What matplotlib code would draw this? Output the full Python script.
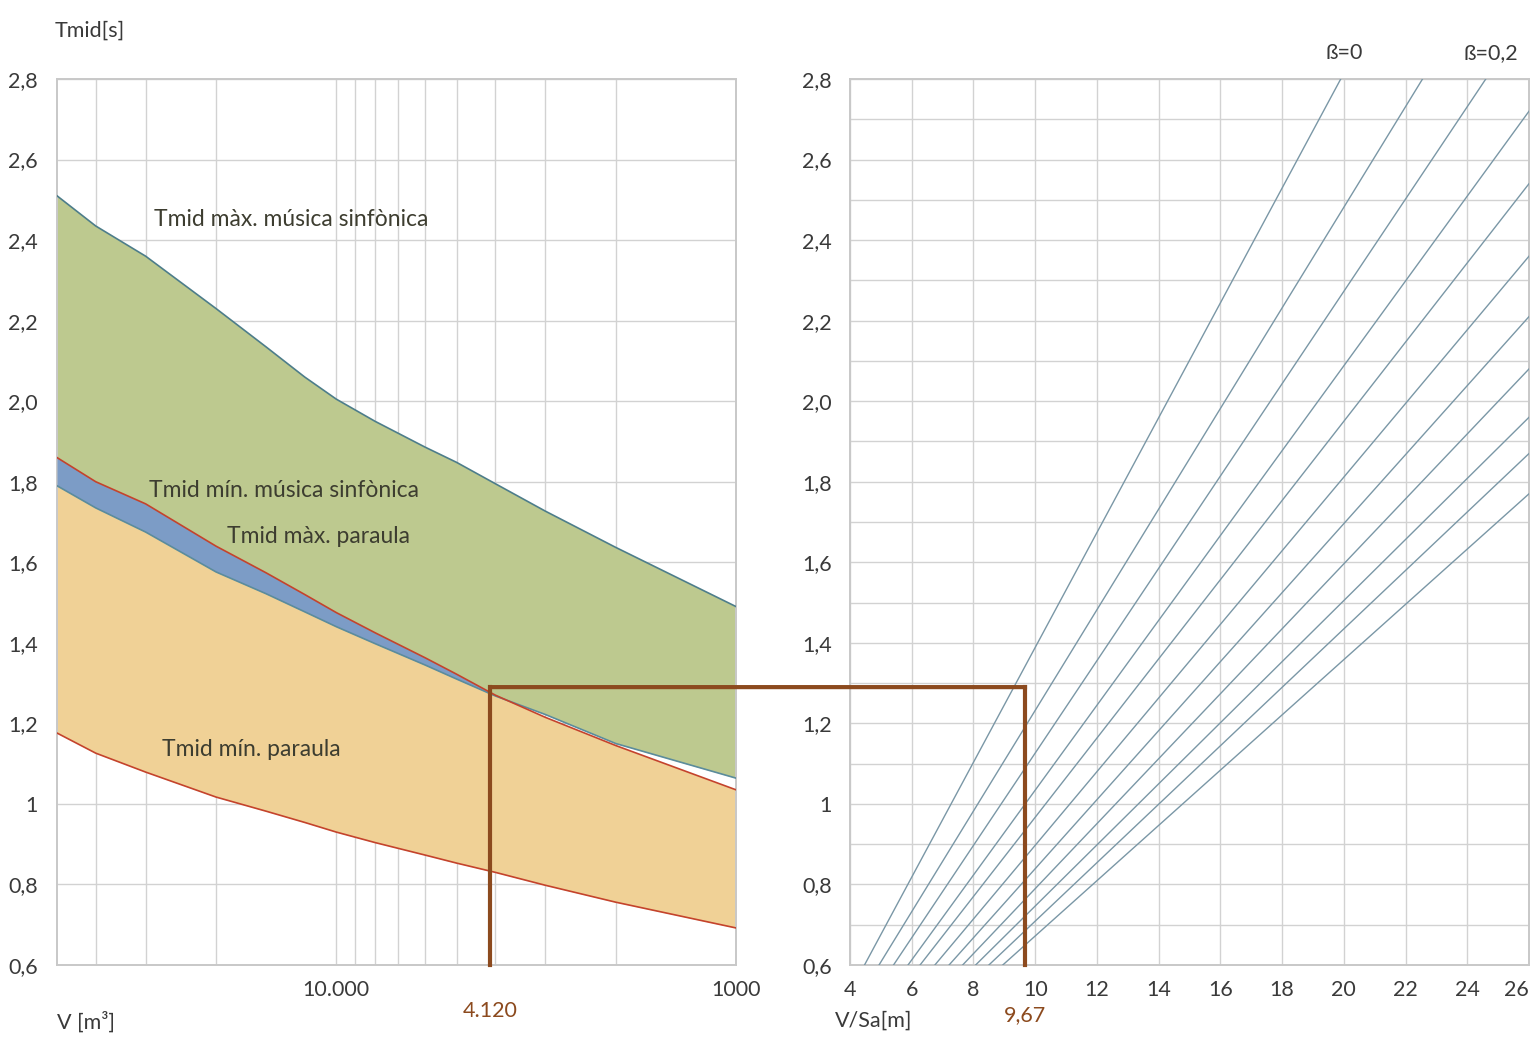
import numpy as np
import matplotlib
matplotlib.use("Agg")
import matplotlib.pyplot as plt
from matplotlib.patches import ConnectionPatch

plt.rcParams['font.family'] = ['Lato', 'DejaVu Sans']

# left chart: Tmid vs volume (log axis, reversed)
volume = [50000, 40000, 30000, 20000, 15000, 12000, 10000, 8000, 6000, 5000, 4000, 3000, 2000, 1000]
t_max_musica = [2.51, 2.435, 2.36, 2.23, 2.135, 2.06, 2.005, 1.95, 1.886, 1.848, 1.795, 1.727, 1.637, 1.49]
t_min_musica = [1.79, 1.735, 1.675, 1.576, 1.522, 1.477, 1.44, 1.398, 1.345, 1.31, 1.268, 1.222, 1.15, 1.064]
t_max_paraula = [1.86, 1.80, 1.745, 1.64, 1.574, 1.52, 1.475, 1.425, 1.363, 1.322, 1.27, 1.215, 1.145, 1.035]
t_min_paraula = [1.176, 1.126, 1.079, 1.017, 0.982, 0.954, 0.93, 0.904, 0.873, 0.853, 0.83, 0.798, 0.756, 0.692]

v_grid = [40000, 30000, 20000, 9000, 8000, 7000, 6000, 5000, 4000, 3000, 2000]
v_example = 4120
t_example = 1.29

# right chart: Tmid vs V/Sa, one line per beta (beta = 0 ... 0,2)
beta_x_start = [4.47, 4.94, 5.41, 5.88, 6.27, 6.75, 7.21, 7.65, 8.07, 8.5, 8.95]
beta_t_start = [0.6] * 11
beta_x_end = [19.9, 22.55, 24.6, 26, 26, 26, 26, 26, 26, 26, 26]
beta_t_end = [2.8, 2.8, 2.8, 2.72, 2.54, 2.36, 2.21, 2.08, 1.96, 1.87, 1.77]
vsa_example = 9.67

grid_c = '#d2d2d2'
txt_c = '#3a3a3a'
brown = '#8c4a1e'
fs = 15.5


def fmt(v):
    if abs(v - 1) < 1e-9:
        return '1'
    return ('%.1f' % v).replace('.', ',')


fig = plt.figure(figsize=(15.37, 10.38), dpi=100)
ax1 = fig.add_axes([57 / 1537, 73 / 1038, 679 / 1537, 886 / 1038])
ax2 = fig.add_axes([850 / 1537, 73 / 1038, 679 / 1537, 886 / 1038])

# ---- left
V = np.array(volume)
top = np.array(t_max_musica)
tmm = np.array(t_min_musica)
tmp = np.array(t_max_paraula)
bot = np.array(t_min_paraula)

ax1.set_xscale('log')
ax1.set_xlim(50000, 1000)
ax1.set_ylim(0.6, 2.8)
ax1.fill_between(V, tmm, top, color='#bdc98f', lw=0, zorder=2)
ax1.fill_between(V, bot, tmp, color='#f0d196', lw=0, zorder=2)
ax1.fill_between(V, tmm, tmp, where=tmp > tmm, interpolate=True, color='#7c9cc6', lw=0, zorder=3)
ax1.plot(V, top, color='#4d7d8a', lw=1.2, zorder=4)
ax1.plot(V, tmm, color='#5b8c9c', lw=1.2, zorder=4)
ax1.plot(V, tmp, color='#c4432c', lw=1.2, zorder=5)
ax1.plot(V, bot, color='#c4432c', lw=1.2, zorder=5)

ax1.set_xticks([10000, 1000])
ax1.set_xticklabels(['10.000', '1000'])
ax1.set_xticks(v_grid, minor=True)
ax1.xaxis.set_minor_formatter(plt.NullFormatter())
yt = np.round(np.arange(0.6, 2.81, 0.2), 1)
ax1.set_yticks(yt)
ax1.set_yticklabels([fmt(v) for v in yt])
ax1.grid(True, which='both', color=grid_c, lw=1.0, zorder=1)
ax1.set_axisbelow(True)
ax1.tick_params(which='both', length=0, labelsize=fs, labelcolor=txt_c)
ax1.tick_params(axis='y', pad=14)
ax1.tick_params(axis='x', pad=11)
for s in ax1.spines.values():
    s.set_color('#c8c8c8')
    s.set_linewidth(1.4)

lab_c = '#3d3d30'
ax1.text(28600, 2.452, 'Tmid màx. música sinfònica', fontsize=16.5, color=lab_c, va='center', zorder=6)
ax1.text(29500, 1.779, 'Tmid mín. música sinfònica', fontsize=16.5, color=lab_c, va='center', zorder=6)
ax1.text(18800, 1.663, 'Tmid màx. paraula', fontsize=16.5, color=lab_c, va='center', zorder=6)
ax1.text(27300, 1.134, 'Tmid mín. paraula', fontsize=16.5, color=lab_c, va='center', zorder=6)

fig.text(55 / 1537, 1 - 31 / 1038, 'Tmid[s]', fontsize=fs, color=txt_c, va='center', ha='left')
fig.text(57 / 1537, 1 - 1022 / 1038, 'V [m³]', fontsize=fs, color=txt_c, va='center', ha='left')
ax1.text(v_example, -0.052, '4.120', transform=ax1.get_xaxis_transform(), fontsize=fs, color=brown,
         ha='center', va='center')

# ---- right
ax2.set_xlim(4, 26)
ax2.set_ylim(0.6, 2.8)
for xs, ts, xe, te in zip(beta_x_start, beta_t_start, beta_x_end, beta_t_end):
    ax2.plot([xs, xe], [ts, te], color='#7a97a6', lw=1.0, zorder=3)
ax2.set_xticks(np.arange(4, 27, 2))
ax2.set_yticks(yt)
ax2.set_yticklabels([fmt(v) for v in yt])
ax2.set_yticks(np.round(np.arange(0.7, 2.8, 0.2), 1), minor=True)
ax2.grid(True, which='both', color=grid_c, lw=1.0, zorder=1)
ax2.set_axisbelow(True)
ax2.tick_params(which='both', length=0, labelsize=fs, labelcolor=txt_c)
ax2.tick_params(axis='y', pad=13)
ax2.tick_params(axis='x', pad=11)
ax2.get_xticklabels()[-1].set_horizontalalignment('right')
for s in ax2.spines.values():
    s.set_color('#c8c8c8')
    s.set_linewidth(1.4)

ax2.text(20.0, 1.029, 'ß=0', transform=ax2.get_xaxis_transform(), fontsize=fs, color=txt_c, ha='center', va='center')
ax2.text(24.75, 1.029, 'ß=0,2', transform=ax2.get_xaxis_transform(), fontsize=fs, color=txt_c, ha='center', va='center')
ax2.text(vsa_example, -0.057, '9,67', transform=ax2.get_xaxis_transform(), fontsize=fs, color=brown,
         ha='center', va='center')
fig.text(835 / 1537, 1 - 1021 / 1038, 'V/Sa[m]', fontsize=fs, color=txt_c, va='center', ha='left')

# ---- example path V -> Tmid -> V/Sa
ax1.plot([v_example, v_example], [0.6, t_example], color=brown, lw=3, zorder=7,
         solid_capstyle='projecting', clip_on=False)
ax2.plot([vsa_example, vsa_example], [0.6, t_example], color=brown, lw=3, zorder=7,
         solid_capstyle='projecting', clip_on=False)
con = ConnectionPatch(xyA=(v_example, t_example), coordsA=ax1.transData,
                      xyB=(vsa_example, t_example), coordsB=ax2.transData,
                      color=brown, lw=3, zorder=7, capstyle='projecting')
fig.add_artist(con)

fig.savefig('out.png', dpi=100)
